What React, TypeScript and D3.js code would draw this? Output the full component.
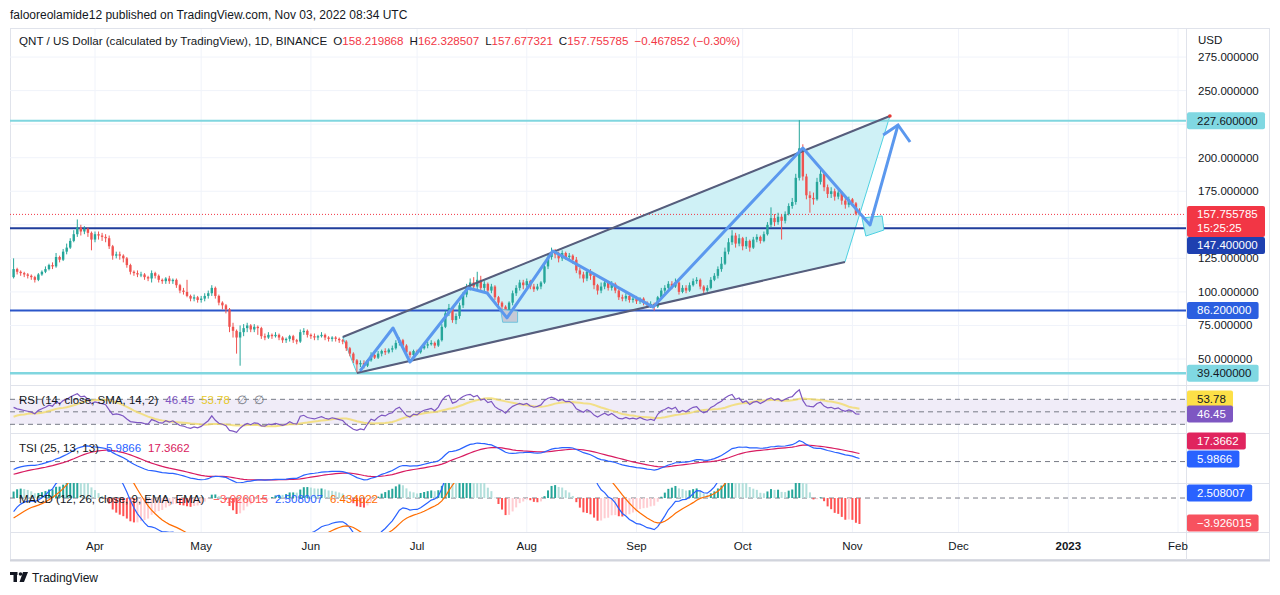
import React from "react";
import * as d3 from "d3";

// ---------- DATA ----------
const FIRST_DAY = Date.UTC(2022, 2, 9); // first visible daily candle (Mar 9 2022)
// closes before the visible window (only used to warm up the indicators)
const PRE_CLOSES = [118,112,115,113,110,114,116,115,117,120,118,116,121,124,126,130,128,127,125,122,120,121,119,124,123,118,115,116,112,108,105,107,102,106,109,104,108,112,110,107,103,104,101,103,111];
const CLOSES = [
117,115,114,113,112,111,109,113,115,117,
120,119,126,124,130,133,138,143,148,145,
147,144,139,143,142,141,140,134,127,128,
127,125,120,115,114,113,113,111,110,114,
112,109,108,110,108,109,105,101,100,97,
95,96,94,95,97,99,103,97,92,90,
87,74,71,66,70,73,75,72,74,73,
67,66,68,67,68,66,64,65,67,64,
63,70,71,68,67,66,67,68,66,65,
66,65,64,63,58,54,49,46,47,45,
49,53,51,54,56,55,57,58,62,64,
60,55,53,56,55,58,60,61,62,60,
64,74,84,88,79,82,90,98,104,107,
104,109,103,106,101,104,96,92,89,84,
92,99,103,107,105,108,104,102,104,107,
119,126,130,128,125,129,126,127,124,116,
113,110,115,112,105,101,104,107,103,106,
101,96,95,97,94,95,93,95,92,90,
91,89,96,101,103,106,104,107,100,103,
101,105,108,109,104,101,103,109,112,117,
121,130,137,142,136,140,134,138,133,139,
141,138,143,150,155,152,156,153,158,164,
167,185,207,186,172,170,169,182,188,178,
173,175,171,174,168,165,169,166,158.219868,157.755785];
const HIGHS = [
125,118,116,115,114,113,112,114,116,119,
121,122,129,127,132,136,140,146,154,150,
149,148,145,145,145,144,143,142,135,130,
130,128,126,121,116,116,115,114,112,116,
115,113,110,111,112,110,110,106,103,109,
98,98,97,97,99,101,105,104,98,93,
91,88,77,72,75,76,77,76,76,75,
74,69,70,69,70,69,67,66,68,68,
65,72,73,72,69,69,68,70,69,67,
67,67,66,65,64,59,55,50,49,49,
50,55,54,56,57,58,58,60,64,66,
65,61,56,57,57,59,61,63,64,63,
65,76,86,91,89,84,92,100,106,110,
111,115,112,108,107,106,105,97,93,90,
93,101,105,109,109,110,109,106,106,108,
121,128,133,132,130,131,130,129,128,126,
118,115,117,117,113,106,107,109,108,108,
107,102,98,99,98,97,97,96,96,93,
93,92,97,103,105,108,108,110,108,105,
105,107,110,111,110,105,105,111,114,119,
126,133,140,146,144,143,141,141,139,141,
143,142,145,152,163,158,159,158,160,166,
170,188,228,210,188,175,174,185,192,189,
180,178,177,176,175,170,171,170,167,162.328507];
const LOWS = [
110,113,112,111,110,109,107,108,112,114,
116,117,118,122,123,128,132,137,141,142,
143,141,131,137,139,138,137,132,124,125,
124,122,118,113,112,111,111,109,108,107,
110,107,106,106,106,106,103,99,98,96,
93,93,92,92,93,95,97,95,90,87,
84,70,66,54,45,67,70,70,70,68,
65,64,65,65,66,64,62,62,63,62,
61,62,68,66,65,64,64,66,64,63,
63,63,62,61,56,52,47,40,44,43,
44,48,50,50,52,53,54,55,57,60,
58,53,51,52,53,54,57,58,60,58,
59,63,73,82,77,76,80,88,96,101,
101,102,101,100,98,99,94,89,86,78,
83,90,97,101,102,103,102,100,101,102,
106,117,124,125,122,123,124,123,121,114,
110,107,108,109,102,98,99,102,101,101,
99,94,93,93,92,92,91,91,90,88,
88,86,88,95,99,102,102,103,98,99,
99,100,104,106,102,99,100,102,108,110,
115,120,128,135,133,134,131,132,130,132,
137,136,137,142,148,149,150,139,151,157,
162,165,183,183,169,159,165,168,180,175,
170,170,168,169,165,162,163,164,157,157.677321];

const LAST_CHANGE = -0.467852;
const LAST_CHANGE_PCT = -0.30;
const LEVELS = [227.6, 147.4, 86.2, 39.4];
const PRICE_TICKS = [275, 250, 225, 200, 175, 150, 125, 100, 75, 50];
const MONTH_LABELS = ["Apr", "May", "Jun", "Jul", "Aug", "Sep", "Oct", "Nov", "Dec", "2023", "Feb"];
const MONTH_DATES = [[2022,3],[2022,4],[2022,5],[2022,6],[2022,7],[2022,8],[2022,9],[2022,10],[2022,11],[2023,0],[2023,1]];
const RSI_LAST = [46.45, 53.78];
const TSI_LAST = [5.9866, 17.3662];
const MACD_LAST = [-3.926015, 2.508007, 6.434022];
const COUNTDOWN = "15:25:25";
// drawings: [day index from first candle, price]
const CHANNEL_UPPER = [[93.0, 66.4], [247.6, 231.1]];
const CHANNEL_LOWER = [[97.0, 39.6], [234.9, 122.3]];
const ZIGZAG = [[97.9, 41.1], [107.2, 73.1], [112.0, 47.8], [128.4, 102.9], [133.8, 99.2], [139.4, 80.6], [152.4, 130.5], [180.7, 88.7], [223.0, 207.2], [242.0, 149.9], [249.9, 224.4]];
const ARROW_HEAD = [[245.7, 216.9], [249.9, 224.4], [253.3, 211.7]];
const GRAY_BOX = [[137.6, 87.0], [142.4, 85.6], [142.4, 77.4], [138.2, 77.4]];
const CYAN_BOX = [[239.7, 155.1], [245.4, 156.6], [245.9, 146.1], [240.8, 141.6]];

// ---------- helpers ----------
function ema(src: number[], len: number) {
  const a = 2 / (len + 1); let prev = NaN; const out: number[] = [];
  for (const v of src) { prev = isNaN(prev) ? v : a * v + (1 - a) * prev; out.push(prev); }
  return out;
}
function rma(src: number[], len: number) {
  const a = 1 / len; let prev = NaN; const out: number[] = [];
  for (const v of src) { prev = isNaN(prev) ? v : a * v + (1 - a) * prev; out.push(prev); }
  return out;
}
function sma(src: number[], len: number) {
  return src.map((_, i) => { const s = src.slice(Math.max(0, i - len + 1), i + 1); return d3.mean(s) as number; });
}

const FONT = "'Liberation Sans', Arial, sans-serif";
const TXT = "#131722";
const UP = "#26a69a", DOWN = "#ef5350";

export default function App() {
  const DAY = 86400000;
  const L = 10, R = 1186, FR = 1270;
  const P = { main: [28, 385], rsi: [385, 433], tsi: [433, 483], macd: [483, 532] };
  const x = d3.scaleUtc().domain([new Date(Date.UTC(2022, 3, 1)), new Date(Date.UTC(2023, 1, 1))]).range([95, 1178]);
  const xi = (d: number) => x(new Date(FIRST_DAY + d * DAY));
  const y = d3.scaleLinear().domain([30.63, 296.65]).range([385, 28]);
  const yRsi = d3.scaleLinear().domain([16.1, 92.9]).range([433, 385]);
  const yTsi = d3.scaleLinear().domain([-51, 68]).range([483, 433]);
  const yMacd = d3.scaleLinear().domain([-5.2, 2.3]).range([532, 483]);

  const full = PRE_CLOSES.concat(CLOSES);
  const off = PRE_CLOSES.length;
  const ch = full.map((v, i) => (i === 0 ? 0 : v - full[i - 1]));
  const up = rma(ch.map(c => Math.max(c, 0)), 14);
  const dn = rma(ch.map(c => Math.max(-c, 0)), 14);
  const rsi = up.map((u, i) => (dn[i] === 0 ? 100 : 100 - 100 / (1 + u / dn[i])));
  const rsiMa = sma(rsi, 14);
  const pcs = ema(ema(ch.slice(1), 25), 13);
  const apcs = ema(ema(ch.slice(1).map(Math.abs), 25), 13);
  const tsi = [0].concat(pcs.map((v, i) => (100 * v) / apcs[i]));
  const tsiSig = ema(tsi, 13);
  const e12 = ema(full, 12), e26 = ema(full, 26);
  const macd = e12.map((v, i) => v - e26[i]);
  const sig = ema(macd, 9);
  const hist = macd.map((v, i) => v - sig[i]);

  const vis = (arr: number[]) => arr.slice(off);
  const mkLine = (sc: d3.ScaleLinear<number, number>) =>
    d3.line<number>().x((_, i) => xi(i)).y(v => sc(v));
  const poly = (pts: number[][]) => pts.map(p => `${xi(p[0])},${y(p[1])}`).join(" ");

  const opens = CLOSES.map((_, i) => (i === 0 ? PRE_CLOSES[PRE_CLOSES.length - 1] : CLOSES[i - 1]));
  const lastC = CLOSES[CLOSES.length - 1];
  const lastO = opens[opens.length - 1];

  const labelW = (s: string) => s.length * 6.4 + 14;
  const monthXs = MONTH_DATES.map(m => x(new Date(Date.UTC(m[0], m[1], 1))));

  const redY = y(lastC);
  let blueY = y(LEVELS[1]);
  if (blueY - 8 < redY + 22) blueY = redY + 22 + 9;
  let rsiA = yRsi(RSI_LAST[0]), rsiB = yRsi(RSI_LAST[1]);
  if (rsiA - rsiB < 15) rsiB = rsiA - 15;
  let tsiA = yTsi(TSI_LAST[0]), tsiB = yTsi(TSI_LAST[1]);
  if (tsiA - tsiB < 17) tsiB = tsiA - 18;
  const macdA = Math.max(yMacd(MACD_LAST[1]), P.macd[0] + 10);
  const macdH = Math.min(yMacd(MACD_LAST[0]), P.macd[1] - 9);

  const tickHidden = (v: number) => {
    const ty = y(v);
    const occupied = [y(LEVELS[0]), y(LEVELS[3]), y(LEVELS[2]), redY, redY + 14, blueY];
    return occupied.some(o => Math.abs(o - ty) < 12);
  };

  const Label = ({ yy, text, bg, fg, w }: any) => (
    <g>
      <rect x={R + 1} y={yy - 8.5} width={w ?? labelW(text)} height={17} rx={2} fill={bg} />
      <text x={R + 11} y={yy + 4} fontSize={11.5} fill={fg} fontFamily={FONT}>{text}</text>
    </g>
  );

  return (
    <svg width={1280} height={595} style={{ position: "absolute", left: 0, top: 0, background: "#fff" }}>
      <defs>
        {Object.entries(P).map(([k, v]) => (
          <clipPath id={`clip-${k}`} key={k}><rect x={L} y={v[0]} width={R - L} height={v[1] - v[0]} /></clipPath>
        ))}
      </defs>
      <rect width={1280} height={595} fill="#fff" />
      <text x={10} y={19} fontSize={12} fill={TXT} fontFamily={FONT}>falooreolamide12 published on TradingView.com, Nov 03, 2022 08:34 UTC</text>

      {/* frame */}
      <rect x={L + 0.5} y={28.5} width={FR - L - 1} height={531} fill="none" stroke="#e0e3eb" />
      <line x1={L} x2={FR} y1={560.5} y2={560.5} stroke="#d1d4dc" strokeWidth={2} />
      {monthXs.map((mx, i) => <line key={i} x1={mx} x2={mx} y1={29} y2={532} stroke="#f0f3fa" />)}
      {PRICE_TICKS.map(v => <line key={v} x1={L} x2={R} y1={y(v)} y2={y(v)} stroke="#f0f3fa" />)}
      {[P.rsi[0], P.tsi[0], P.macd[0], P.macd[1]].map(yy => <line key={yy} x1={L} x2={FR} y1={yy + 0.5} y2={yy + 0.5} stroke="#e0e3eb" />)}
      <line x1={R + 0.5} x2={R + 0.5} y1={28} y2={560} stroke="#e0e3eb" />

      {/* MAIN PANE */}
      <g clipPath="url(#clip-main)">
        <polygon points={poly([CHANNEL_UPPER[0], CHANNEL_UPPER[1], CHANNEL_LOWER[1], CHANNEL_LOWER[0]])} fill="#cff1f6" stroke="#4dd0e1" strokeWidth={1} />
        <line x1={L} x2={R} y1={y(LEVELS[0])} y2={y(LEVELS[0])} stroke="#80d6df" strokeWidth={2} />
        <line x1={L} x2={R} y1={y(LEVELS[1])} y2={y(LEVELS[1])} stroke="#1f3d9b" strokeWidth={2} />
        <line x1={L} x2={R} y1={y(LEVELS[2])} y2={y(LEVELS[2])} stroke="#2b56c9" strokeWidth={2} />
        <line x1={L} x2={R} y1={y(LEVELS[3])} y2={y(LEVELS[3])} stroke="#80d6df" strokeWidth={2.5} />
        <line x1={L} x2={R} y1={y(lastC)} y2={y(lastC)} stroke="#f23645" strokeDasharray="1,2" />
        {CLOSES.map((c, i) => {
          const o = opens[i]; const col = c >= o ? UP : DOWN; const cx = xi(i);
          const top = y(Math.max(o, c)), bot = y(Math.min(o, c));
          return (
            <g key={i}>
              <line x1={cx} x2={cx} y1={y(HIGHS[i])} y2={y(LOWS[i])} stroke={col} strokeWidth={1} />
              <rect x={cx - 1.2} y={top} width={2.4} height={Math.max(1, bot - top)} fill={col} />
            </g>
          );
        })}
        <line x1={xi(CHANNEL_UPPER[0][0])} y1={y(CHANNEL_UPPER[0][1])} x2={xi(CHANNEL_UPPER[1][0])} y2={y(CHANNEL_UPPER[1][1])} stroke="#575d7c" strokeWidth={2} />
        <line x1={xi(CHANNEL_LOWER[0][0])} y1={y(CHANNEL_LOWER[0][1])} x2={xi(CHANNEL_LOWER[1][0])} y2={y(CHANNEL_LOWER[1][1])} stroke="#575d7c" strokeWidth={2} />
        <circle cx={xi(CHANNEL_UPPER[1][0])} cy={y(CHANNEL_UPPER[1][1])} r={1.8} fill="#e53935" />
        <polygon points={poly(GRAY_BOX)} fill="#c5c9d6" stroke="#6fc3dd" strokeWidth={1} />
        <polygon points={poly(CYAN_BOX)} fill="#b9ecf2" stroke="#4dd0e1" strokeWidth={1} />
        <polyline points={poly(ZIGZAG)} fill="none" stroke="#5b98ee" strokeWidth={3} strokeLinejoin="round" />
        <polyline points={poly(ARROW_HEAD)} fill="none" stroke="#5b98ee" strokeWidth={3} strokeLinejoin="miter" />
      </g>
      <text y={45} fontSize={11.6} fontFamily={FONT} fill={TXT}>
        <tspan x={19}>QNT / US Dollar (calculated by TradingView), 1D, BINANCE</tspan>
        <tspan dx={6}>O</tspan><tspan fill="#f23645">{lastO.toFixed(6)}</tspan>
        <tspan dx={6}>H</tspan><tspan fill="#f23645">{HIGHS[HIGHS.length - 1].toFixed(6)}</tspan>
        <tspan dx={6}>L</tspan><tspan fill="#f23645">{LOWS[LOWS.length - 1].toFixed(6)}</tspan>
        <tspan dx={6}>C</tspan><tspan fill="#f23645">{lastC.toFixed(6)}</tspan>
        <tspan dx={6} fill="#f23645">{`\u2212${Math.abs(LAST_CHANGE).toFixed(6)} (\u2212${Math.abs(LAST_CHANGE_PCT).toFixed(2)}%)`}</tspan>
      </text>

      {/* RSI PANE */}
      <g clipPath="url(#clip-rsi)">
        <rect x={L} y={yRsi(70)} width={R - L} height={yRsi(30) - yRsi(70)} fill="#f0ecf8" />
        {[70, 50, 30].map(v => <line key={v} x1={L} x2={R} y1={yRsi(v)} y2={yRsi(v)} stroke="#787b86" strokeDasharray="5,4" />)}
        <path d={mkLine(yRsi)(vis(rsiMa)) || ""} fill="none" stroke="#f3dc6b" strokeOpacity={0.8} strokeWidth={2} />
        <path d={mkLine(yRsi)(vis(rsi)) || ""} fill="none" stroke="#7e57c2" strokeWidth={1.2} />
      </g>
      <text y={404} fontSize={11.5} fontFamily={FONT} fill={TXT}>
        <tspan x={19}>RSI (14, close, SMA, 14, 2)</tspan>
        <tspan dx={7} fill="#7e57c2">{RSI_LAST[0].toFixed(2)}</tspan>
        <tspan dx={7} fill="#e6c829">{RSI_LAST[1].toFixed(2)}</tspan>
        <tspan dx={7} fill="#787b86">∅</tspan>
        <tspan dx={7} fill="#787b86">∅</tspan>
      </text>

      {/* TSI PANE */}
      <g clipPath="url(#clip-tsi)">
        <line x1={L} x2={R} y1={yTsi(0)} y2={yTsi(0)} stroke="#787b86" strokeDasharray="5,4" />
        <path d={mkLine(yTsi)(vis(tsiSig)) || ""} fill="none" stroke="#d81b60" strokeWidth={1.2} />
        <path d={mkLine(yTsi)(vis(tsi)) || ""} fill="none" stroke="#2962ff" strokeWidth={1.2} />
      </g>
      <text y={452} fontSize={11.5} fontFamily={FONT} fill={TXT}>
        <tspan x={19}>TSI (25, 13, 13)</tspan>
        <tspan dx={7} fill="#2962ff">{TSI_LAST[0].toFixed(4)}</tspan>
        <tspan dx={7} fill="#d81b60">{TSI_LAST[1].toFixed(4)}</tspan>
      </text>

      {/* MACD PANE */}
      <g clipPath="url(#clip-macd)">
        <line x1={L} x2={R} y1={yMacd(0)} y2={yMacd(0)} stroke="#787b86" strokeDasharray="5,4" />
        {vis(hist).map((h, i) => {
          const prev = hist[off + i - 1];
          const col = h >= 0 ? (h > prev ? "#26a69a" : "#b2dfdb") : (h < prev ? "#ff5252" : "#ffcdd2");
          const y0 = yMacd(0), y1 = yMacd(h);
          return <rect key={i} x={xi(i) - 1} y={Math.min(y0, y1)} width={2} height={Math.max(0.5, Math.abs(y1 - y0))} fill={col} />;
        })}
        <path d={mkLine(yMacd)(vis(macd)) || ""} fill="none" stroke="#2962ff" strokeWidth={1.2} />
        <path d={mkLine(yMacd)(vis(sig)) || ""} fill="none" stroke="#ff6d00" strokeWidth={1.2} />
      </g>
      <text y={503} fontSize={11.5} fontFamily={FONT} fill={TXT}>
        <tspan x={19}>MACD (12, 26, close, 9, EMA, EMA)</tspan>
        <tspan dx={9} fill="#ff5252">{`\u2212${Math.abs(MACD_LAST[0]).toFixed(6)}`}</tspan>
        <tspan dx={7} fill="#2962ff">{MACD_LAST[1].toFixed(6)}</tspan>
        <tspan dx={7} fill="#ff6d00">{MACD_LAST[2].toFixed(6)}</tspan>
      </text>

      {/* PRICE AXIS */}
      <text x={1198} y={44} fontSize={11.5} fill={TXT} fontFamily={FONT}>USD</text>
      {PRICE_TICKS.filter(v => !tickHidden(v) && y(v) > 50).map(v => (
        <text key={v} x={1198} y={y(v) + 4} fontSize={11.5} fill={TXT} fontFamily={FONT}>{v.toFixed(6)}</text>
      ))}
      <Label yy={y(LEVELS[0])} text={LEVELS[0].toFixed(6)} bg="#80d8e2" fg={TXT} />
      <Label yy={y(LEVELS[3])} text={LEVELS[3].toFixed(6)} bg="#80d8e2" fg={TXT} />
      <Label yy={y(LEVELS[2])} text={LEVELS[2].toFixed(6)} bg="#2b5fe0" fg="#fff" />
      <g>
        <rect x={R + 1} y={redY - 8.5} width={labelW(lastC.toFixed(6))} height={31} rx={2} fill="#f23645" />
        <text x={R + 11} y={redY + 4} fontSize={11.5} fill="#fff" fontFamily={FONT}>{lastC.toFixed(6)}</text>
        <text x={R + 11} y={redY + 18} fontSize={11.5} fill="#fff" fontFamily={FONT}>{COUNTDOWN}</text>
      </g>
      <Label yy={blueY} text={LEVELS[1].toFixed(6)} bg="#1e40b0" fg="#fff" />
      <Label yy={rsiB} text={RSI_LAST[1].toFixed(2)} bg="#fde047" fg={TXT} />
      <Label yy={rsiA} text={RSI_LAST[0].toFixed(2)} bg="#7e57c2" fg="#fff" />
      <Label yy={tsiB} text={TSI_LAST[1].toFixed(4)} bg="#e0245e" fg="#fff" />
      <Label yy={tsiA} text={TSI_LAST[0].toFixed(4)} bg="#2962ff" fg="#fff" />
      <Label yy={macdA} text={MACD_LAST[1].toFixed(6)} bg="#2962ff" fg="#fff" />
      <Label yy={macdH} text={`\u2212${Math.abs(MACD_LAST[0]).toFixed(6)}`} bg="#f7525f" fg="#fff" />

      {/* TIME AXIS */}
      {MONTH_LABELS.map((m, i) => (
        <text key={m} x={monthXs[i]} y={550} textAnchor="middle" fontSize={11.5} fill={TXT} fontFamily={FONT} fontWeight={m === "2023" ? "bold" : "normal"}>{m}</text>
      ))}

      {/* footer logo */}
      <g fill="#131722">
        <rect x={10} y={572} width={7.5} height={3} />
        <rect x={13.5} y={572} width={3.5} height={10} />
        <circle cx={20.5} cy={574} r={1.8} />
        <polygon points="23,572 28,572 24,582 19.5,582" />
      </g>
      <text x={32} y={582} fontSize={12} fill="#131722" fontFamily={FONT}>TradingView</text>
    </svg>
  );
}
